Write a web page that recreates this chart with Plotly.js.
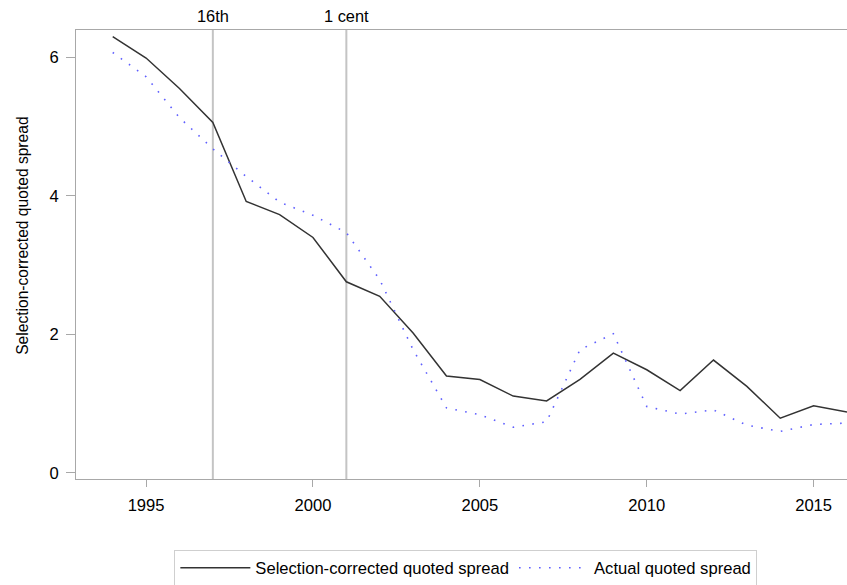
<!DOCTYPE html>
<html>
<head>
<meta charset="utf-8">
<script src="https://cdn.plot.ly/plotly-3.0.1.min.js"></script>
<style>html,body{margin:0;padding:0;background:#fff;}#chart{width:847px;height:585px;}</style>
</head>
<body>
<div id="chart"></div>
<script>
var years = [1994,1995,1996,1997,1998,1999,2000,2001,2002,2003,2004,2005,2006,2007,2008,2009,2010,2011,2012,2013,2014,2015,2016];
var selectionCorrected = [6.30,5.99,5.55,5.06,3.92,3.73,3.40,2.76,2.55,2.02,1.40,1.35,1.11,1.04,1.35,1.73,1.49,1.19,1.63,1.25,0.79,0.97,0.88];
var actualSpread = [6.07,5.72,5.13,4.68,4.28,3.91,3.72,3.47,2.79,1.78,0.94,0.84,0.66,0.74,1.78,2.01,0.96,0.85,0.91,0.69,0.60,0.70,0.72];
var eventYears = [1997, 2001];
var eventLabels = ["16th", "1 cent"];
var xTicks = [1995, 2000, 2005, 2010, 2015];
var yTicks = [0, 2, 4, 6];
var seriesNames = ["Selection-corrected quoted spread", "Actual quoted spread"];
var yTitle = "Selection-corrected quoted spread";

var FONT = "Arial, 'Liberation Sans', sans-serif";
var FS = 16.6;

var traces = [
  {x: years, y: selectionCorrected, type: 'scatter', mode: 'lines', name: seriesNames[0],
   line: {color: '#333333', width: 1.5}},
  {x: years, y: actualSpread, type: 'scatter', mode: 'lines', name: seriesNames[1],
   line: {color: 'rgb(95,95,255)', width: 1.6, dash: '1.6px,8.4px'}}
];

var shapes = eventYears.map(function(yr){
  return {type: 'line', xref: 'x', yref: 'paper', x0: yr, x1: yr, y0: 0, y1: 1,
          line: {color: '#c4c4c4', width: 2}, layer: 'below'};
});

var annotations = eventYears.map(function(yr, i){
  return {x: yr, xref: 'x', y: 1, yref: 'paper', yanchor: 'bottom', yshift: 3,
          text: eventLabels[i], showarrow: false, font: {family: FONT, size: 16.4, color: '#000'}};
});
annotations.push({x: -0.0704, xref: 'paper', y: 0.541, yref: 'paper', text: yTitle, textangle: -90,
  showarrow: false, xanchor: 'center', yanchor: 'middle', font: {family: FONT, size: 15.6, color: '#000'}});

var layout = {
  width: 847, height: 585,
  margin: {l: 76, r: 0, t: 30, b: 106, pad: 0},
  paper_bgcolor: '#fff', plot_bgcolor: '#fff',
  font: {family: FONT, size: FS, color: '#000'},
  showlegend: true,
  legend: {orientation: 'h', xref: 'container', yref: 'container', x: 0.550, xanchor: 'center',
           y: 0.029, yanchor: 'middle', bordercolor: '#cfcfcf', borderwidth: 1,
           itemwidth: 70, font: {family: FONT, size: FS, color: '#000'}, traceorder: 'normal'},
  xaxis: {range: [1992.9, 2016.0], tickvals: xTicks, ticktext: xTicks.map(String),
          ticks: 'outside', ticklen: 7, tickcolor: '#a8a8a8', tickwidth: 1, ticklabelstandoff: 4,
          showline: true, linecolor: '#a8a8a8', linewidth: 1, mirror: true,
          showgrid: false, zeroline: false, tickfont: {family: FONT, size: FS}},
  yaxis: {range: [-0.087, 6.395], tickvals: yTicks, ticktext: yTicks.map(String),
          ticks: 'outside', ticklen: 9, tickcolor: '#a8a8a8', tickwidth: 1, ticklabelstandoff: 4,
          showline: true, linecolor: '#a8a8a8', linewidth: 1, mirror: true,
          showgrid: false, zeroline: false, tickfont: {family: FONT, size: FS}},
  shapes: shapes,
  annotations: annotations
};

Plotly.newPlot('chart', traces, layout, {displayModeBar: false, staticPlot: true});
</script>
</body>
</html>
